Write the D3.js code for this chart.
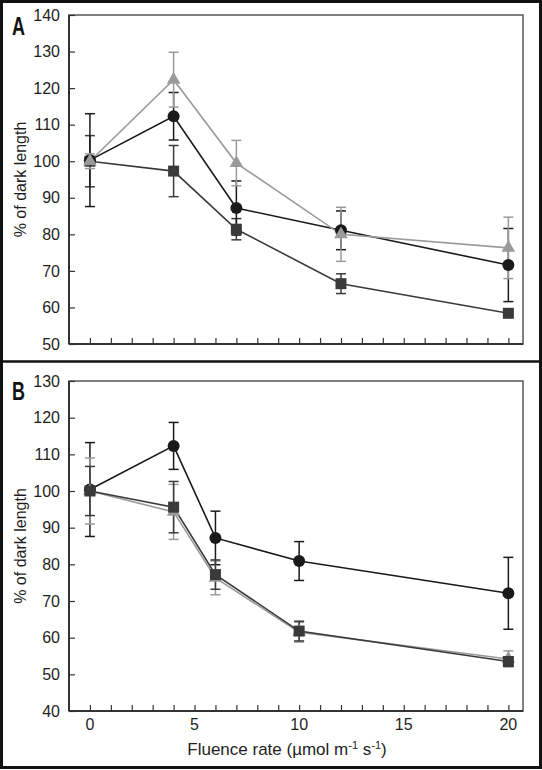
<!DOCTYPE html>
<html><head><meta charset="utf-8">
<script src="https://cdn.jsdelivr.net/npm/d3@7"></script>
<style>body{margin:0;background:#fff}svg{display:block}</style>
</head><body>
<svg id="c" width="542" height="770"></svg>
<script>
// ---- data ----
const xA = [0, 4, 7, 12, 20];
const xB = [0, 4, 6, 10, 20];
const A_circle = [100.3, 112.3, 87.2, 81.1, 71.6];
const A_circleErr = [12.7, 6.5, 7.4, 5.3, 10.0];
const A_square = [100.0, 97.3, 81.4, 66.5, 58.4];
const A_squareErr = [7.0, 7.0, 2.9, 2.7, 1.0];
const A_triangle = [100.0, 122.3, 99.5, 80.0, 76.3];
const A_triangleErr = [2.0, 7.5, 6.2, 7.4, 8.4];
const B_circle = [100.4, 112.3, 87.2, 80.9, 72.1];
const B_circleErr = [12.8, 6.4, 7.3, 5.3, 9.8];
const B_square = [100.0, 95.6, 77.2, 61.8, 53.5];
const B_squareErr = [6.7, 7.0, 4.0, 2.7, 1.2];
const B_triangle = [100.0, 94.3, 76.3, 61.5, 54.2];
const B_triangleErr = [9.0, 7.5, 4.6, 2.7, 2.2];
const xTickLabels = [0, 5, 10, 15, 20];
const yTicksA = [50, 60, 70, 80, 90, 100, 110, 120, 130, 140];
const yTicksB = [40, 50, 60, 70, 80, 90, 100, 110, 120, 130];
const yLabel = "% of dark length";

const svg = d3.select("#c");
const L = 69, R = 523;
const x = d3.scaleLinear().domain([-1, 20.7]).range([L, R]);
const colors = {circle: "#1a1a1a", square: "#3a3a3a", triangle: "#9a9a9a"};
const font = "Liberation Sans, Arial, sans-serif";

// outer frame
svg.append("rect").attr("x", 1.5).attr("y", 1.5).attr("width", 539).attr("height", 766)
  .attr("fill", "none").attr("stroke", "#111").attr("stroke-width", 3);
svg.append("line").attr("x1", 0).attr("x2", 542).attr("y1", 361.5).attr("y2", 361.5)
  .attr("stroke", "#111").attr("stroke-width", 2.5);

function panel(opts) {
  const {top, bottom, domain, yTicks, xs, series, letter, letterY, showX} = opts;
  const y = d3.scaleLinear().domain(domain).range([bottom, top]);
  const g = svg.append("g");
  g.append("rect").attr("x", L).attr("y", top).attr("width", R - L).attr("height", bottom - top)
    .attr("fill", "none").attr("stroke", "#555").attr("stroke-width", 1.5);
  const xAxis = d3.axisBottom(x).tickValues(d3.range(0, 21)).tickSize(-6).tickFormat("");
  g.append("g").attr("transform", `translate(0,${bottom})`).call(xAxis)
    .call(s => { s.select(".domain").remove(); s.selectAll("line").attr("stroke", "#333").attr("stroke-width", 1.2); });
  const yAxis = d3.axisLeft(y).tickValues(yTicks).tickSize(-6).tickFormat(d3.format("d"));
  g.append("g").attr("transform", `translate(${L},0)`).call(yAxis)
    .call(s => {
      s.select(".domain").remove();
      s.selectAll("line").attr("stroke", "#333").attr("stroke-width", 1.2);
      s.selectAll("text").attr("font-family", font).attr("font-size", 16).attr("fill", "#1e1e1e").attr("x", -9);
    });
  g.append("line").attr("x1", L).attr("x2", L).attr("y1", top).attr("y2", bottom)
    .attr("stroke", "#333").attr("stroke-width", 2);
  g.append("line").attr("x1", L).attr("x2", R).attr("y1", bottom).attr("y2", bottom)
    .attr("stroke", "#333").attr("stroke-width", 2);
  if (showX) {
    g.selectAll(".xl").data(xTickLabels).join("text")
      .attr("x", d => x(d)).attr("y", bottom + 19).attr("text-anchor", "middle")
      .attr("font-family", font).attr("font-size", 16).attr("fill", "#1e1e1e").text(d => d);
  }
  g.append("text").attr("transform", `translate(26,${(top + bottom) / 2}) rotate(-90)`)
    .attr("text-anchor", "middle").attr("font-family", font).attr("font-size", 16)
    .attr("fill", "#1e1e1e").text(yLabel);
  g.append("text").attr("transform", `translate(12,${letterY}) scale(0.72,1)`)
    .attr("font-family", font).attr("font-weight", "bold").attr("font-size", 25).attr("fill", "#111").text(letter);

  const line = d3.line().x(d => x(d.x)).y(d => y(d.v));
  series.forEach(s => {
    const pts = xs.map((xx, i) => ({x: xx, v: s.vals[i]}));
    g.append("path").datum(pts).attr("d", line).attr("fill", "none")
      .attr("stroke", colors[s.type]).attr("stroke-width", 1.6);
  });
  series.forEach(s => {
    const pts = xs.map((xx, i) => ({x: xx, v: s.vals[i], e: s.errs[i]}));
    const eg = g.append("g").attr("stroke", colors[s.type]).attr("stroke-width", 1.5);
    eg.selectAll(".v").data(pts).join("line")
      .attr("x1", d => x(d.x)).attr("x2", d => x(d.x))
      .attr("y1", d => y(d.v - d.e)).attr("y2", d => y(d.v + d.e));
    [1, -1].forEach(sg => {
      eg.selectAll(".c" + sg).data(pts).join("line")
        .attr("x1", d => x(d.x) - 5).attr("x2", d => x(d.x) + 5)
        .attr("y1", d => y(d.v + sg * d.e)).attr("y2", d => y(d.v + sg * d.e));
    });
  });
  series.forEach(s => {
    const pts = xs.map((xx, i) => ({x: xx, v: s.vals[i]}));
    const mg = g.append("g").attr("fill", colors[s.type]);
    if (s.type === "circle") {
      mg.selectAll("circle").data(pts).join("circle")
        .attr("cx", d => x(d.x)).attr("cy", d => y(d.v)).attr("r", 6);
    } else if (s.type === "square") {
      mg.selectAll("rect").data(pts).join("rect")
        .attr("x", d => x(d.x) - 5.5).attr("y", d => y(d.v) - 5.5).attr("width", 11).attr("height", 11);
    } else {
      mg.selectAll("path").data(pts).join("path")
        .attr("transform", d => `translate(${x(d.x)},${y(d.v)})`)
        .attr("d", d3.symbol(d3.symbolTriangle, 80)());
    }
  });
}

panel({top: 15, bottom: 344, domain: [50, 140], yTicks: yTicksA, xs: xA, letter: "A", letterY: 35, showX: false,
  series: [
    {type: "square", vals: A_square, errs: A_squareErr},
    {type: "circle", vals: A_circle, errs: A_circleErr},
    {type: "triangle", vals: A_triangle, errs: A_triangleErr}
  ]});
panel({top: 381, bottom: 711, domain: [40, 130], yTicks: yTicksB, xs: xB, letter: "B", letterY: 400, showX: true,
  series: [
    {type: "circle", vals: B_circle, errs: B_circleErr},
    {type: "triangle", vals: B_triangle, errs: B_triangleErr},
    {type: "square", vals: B_square, errs: B_squareErr}
  ]});

const xl = svg.append("text").attr("x", 287).attr("y", 755).attr("text-anchor", "middle")
  .attr("font-family", font).attr("font-size", 17).attr("fill", "#1e1e1e");
xl.append("tspan").text("Fluence rate (µmol m");
xl.append("tspan").attr("dy", -6).attr("font-size", 11).text("-1");
xl.append("tspan").attr("dy", 6).text(" s");
xl.append("tspan").attr("dy", -6).attr("font-size", 11).text("-1");
xl.append("tspan").attr("dy", 6).text(")");
</script>
</body></html>
